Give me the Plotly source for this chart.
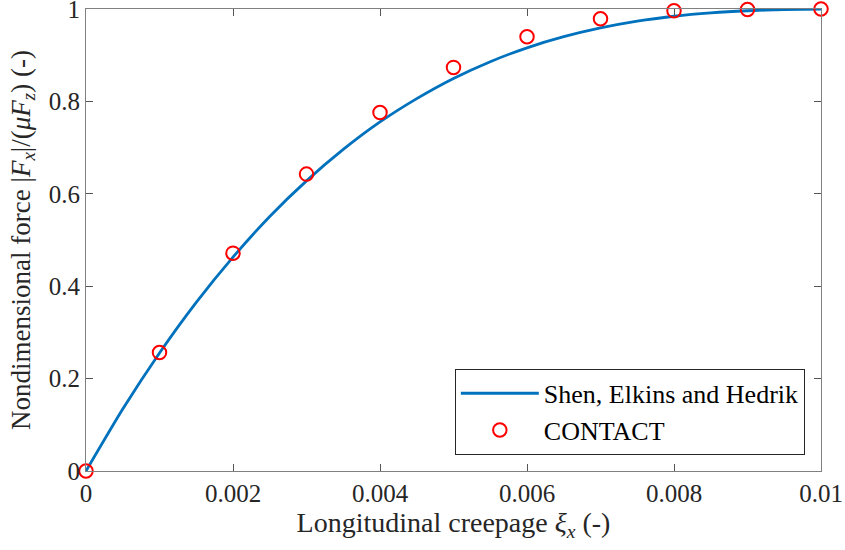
import plotly.graph_objects as go

# Model curve (Shen, Elkins and Hedrik)
model_creepage = [0.0, 0.0005, 0.001, 0.0015, 0.002, 0.0025, 0.003, 0.0035, 0.004, 0.0045,
                  0.005, 0.0055, 0.006, 0.0065, 0.007, 0.0075, 0.008, 0.0085, 0.009, 0.0095, 0.01]
model_force = [0.0, 0.134, 0.2555, 0.365, 0.463, 0.551, 0.628, 0.696, 0.7555, 0.806,
               0.8497, 0.886, 0.916, 0.940, 0.959, 0.9737, 0.9843, 0.9916, 0.9962, 0.9987, 0.9998]

# CONTACT results
contact_creepage = [0.0, 0.001, 0.002, 0.003, 0.004, 0.005, 0.006, 0.007, 0.008, 0.009, 0.01]
contact_force = [0.0, 0.2565, 0.4715, 0.6426, 0.776, 0.8735, 0.940, 0.979, 0.996, 0.999, 1.0]

x_ticks = [0, 0.002, 0.004, 0.006, 0.008, 0.01]
x_tick_labels = ["0", "0.002", "0.004", "0.006", "0.008", "0.01"]
y_ticks = [0, 0.2, 0.4, 0.6, 0.8, 1]
y_tick_labels = ["0", "0.2", "0.4", "0.6", "0.8", "1"]

FONT = "Liberation Serif"

fig = go.Figure()
fig.add_trace(go.Scatter(
    x=model_creepage, y=model_force, mode="lines",
    line=dict(color="#0072BD", width=2.8, shape="spline", smoothing=0.6),
    name="Shen, Elkins and Hedrik", cliponaxis=False))
fig.add_trace(go.Scatter(
    x=contact_creepage, y=contact_force, mode="markers",
    marker=dict(symbol="circle-open", size=13.5, color="#FF0000", line=dict(width=2, color="#FF0000")),
    name="CONTACT", cliponaxis=False))

axis_common = dict(
    showline=True, linecolor="#808080", linewidth=1, mirror="ticks",
    ticks="inside", ticklen=7, tickcolor="#555555", tickwidth=1,
    showgrid=False, zeroline=False, automargin=False,
    ticklabeloverflow="allow",
    tickfont=dict(family=FONT, size=25, color="#262626"),
)

fig.update_layout(
    width=845, height=550,
    margin=dict(l=86, r=24, t=9, b=79),
    paper_bgcolor="white", plot_bgcolor="white",
    font=dict(family=FONT, color="#262626"),
    xaxis=dict(range=[0, 0.01], tickvals=x_ticks, ticktext=x_tick_labels,
               title=dict(text="Longitudinal creepage <i>ξ</i><sub><i>x</i></sub> (-)",
                          font=dict(family=FONT, size=28, color="#262626"), standoff=6),
               **axis_common),
    yaxis=dict(range=[0, 1], tickvals=y_ticks, ticktext=y_tick_labels,
               title=dict(text="Nondimensional force |<i>F</i><sub><i>x</i></sub>|/(<i>μF</i><sub><i>z</i></sub>) (-)",
                          font=dict(family=FONT, size=27, color="#262626"), standoff=10),
               **axis_common),
    legend=dict(x=0.978, y=0.035, xanchor="right", yanchor="bottom",
                bgcolor="white", bordercolor="#262626", borderwidth=1,
                font=dict(family=FONT, size=26, color="black"),
                itemwidth=78, tracegroupgap=0),
    showlegend=True,
)

fig.write_html("out.html", config={"displayModeBar": False},
               post_script="document.body.style.margin='0';")
